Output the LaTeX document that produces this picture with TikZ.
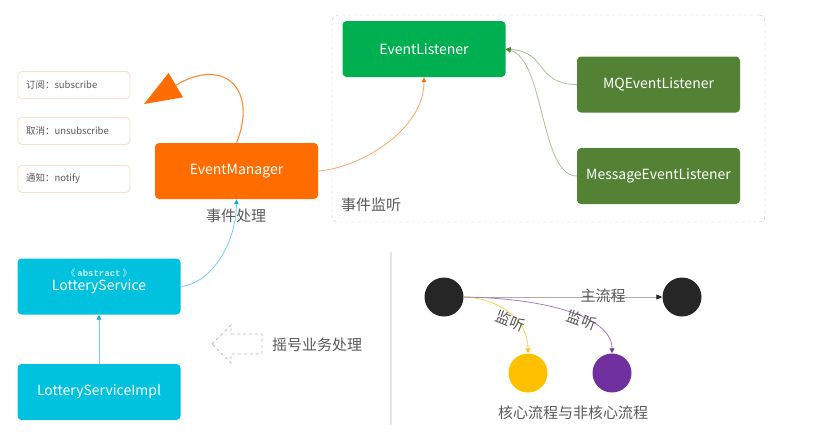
\documentclass[tikz,border=0pt]{standalone}
\usepackage{fontspec}
\setmainfont{Noto Sans CJK SC}
\newfontfamily\absfont{Liberation Mono}
\usetikzlibrary{arrows.meta}
\definecolor{orgA}{HTML}{FF6D00}
\definecolor{orgL}{HTML}{FFA469}
\definecolor{orgB}{HTML}{FDDCC8}
\definecolor{grnA}{HTML}{00B050}
\definecolor{grnD}{HTML}{548235}
\definecolor{grnL}{HTML}{A8C48E}
\definecolor{cyA}{HTML}{00C1DE}
\definecolor{cyL}{HTML}{6FCFF0}
\definecolor{cyT}{HTML}{10A8E0}
\definecolor{txg}{HTML}{595959}
\definecolor{dashg}{HTML}{BDBDBD}
\definecolor{sepg}{HTML}{E6E6E6}
\definecolor{ylw}{HTML}{FFC000}
\definecolor{ylwL}{HTML}{FFD24D}
\definecolor{prp}{HTML}{7030A0}
\definecolor{prpL}{HTML}{A57CC8}
\definecolor{blk}{HTML}{262626}
\definecolor{mainl}{HTML}{ABABAB}
\begin{document}
\begin{tikzpicture}[x=1pt,y=-1pt,
  bigbox/.style={rounded corners=4pt, minimum width=163pt, minimum height=56pt, inner sep=0pt, text=white, font=\fontsize{14}{16}\selectfont},
  smallbox/.style={draw=orgB, line width=0.8pt, rounded corners=4pt, minimum width=112pt, minimum height=27pt, inner xsep=8pt, inner ysep=0pt, text width=96pt, align=left, text=txg, font=\fontsize{9.5}{11}\selectfont},
  lbl/.style={text=txg, font=\fontsize{15}{18}\selectfont, inner sep=0pt},
  dot/.style={circle, minimum size=39pt, inner sep=0pt}
]
\useasboundingbox (0,0) rectangle (826,432);
% group frame
\node (grp) [draw=dashg, dashed, rounded corners=6pt, minimum width=433pt, minimum height=207pt, inner sep=0pt] at (548.5,118.5) {};
% left small boxes
\node (sub) [smallbox] at (74,85) {订阅：subscribe};
\node (unsub) [smallbox] at (74,131) {取消：unsubscribe};
\node (noti) [smallbox] at (74,179) {通知：notify};
% main nodes
\node (em) [bigbox, fill=orgA] at (236.5,171) {EventManager};
\node (el) [bigbox, fill=grnA] at (424,49) {EventListener};
\node (mq) [bigbox, fill=grnD] at (658.5,84.5) {MQEventListener};
\node (msg) [bigbox, fill=grnD] at (658.5,176) {MessageEventListener};
\node (ls) [bigbox, fill=cyA] at (99,286.5) {\raisebox{-3pt}{LotteryService}};
\node (abs) [text=white!80!cyA, font=\fontsize{9}{10}\selectfont, inner sep=0pt] at (99,273.5) {《 {\absfont\bfseries abstract} 》};
\node (lsi) [bigbox, fill=cyA] at (99,392) {LotteryServiceImpl};
% labels
\node (l1) [lbl] at (236,216) {事件处理};
\node (l2) [lbl, anchor=west] at (341,205) {事件监听};
\node (l3) [lbl] at (317,345) {摇号业务处理};
% big orange arrow
\coordinate (bigtip) at (144,104);
\draw[orgA!80!white, line width=1.1pt, -{Triangle[length=37pt,width=28pt,color=orgA]}] (em.north) .. controls (258,90) and (225,56) .. (bigtip);
% connectors
\draw[orgL, line width=0.8pt, -{Triangle[length=5pt,width=4.5pt,color=orgA]}] (em.east) .. controls (360,168) and (424,130) .. (el.south);
\draw[cyL, line width=0.8pt, -{Triangle[length=5pt,width=4.5pt,color=cyT]}] (ls.east) .. controls (210,284) and (236,245) .. (em.south);
\draw[cyL, line width=0.8pt, -{Triangle[length=5pt,width=4.5pt,color=cyT]}] (lsi.north) -- (ls.south);
\draw[grnL, line width=0.8pt, -{Triangle[length=5pt,width=4.5pt,color=grnD]}] (mq.west) .. controls (535,84) and (548,52) .. (el.east);
\draw[grnL, line width=0.8pt, -{Triangle[length=5pt,width=4.5pt,color=grnD]}] (msg.west) .. controls (540,176) and (545,60) .. (el.east);
% hollow dashed arrow
\draw[dashg, dashed, line width=0.8pt] (212,344) -- (231,325) -- (231,334) -- (262,334) -- (262,354) -- (231,354) -- (231,363) -- cycle;
% separator
\draw[sepg, line width=1.5pt] (391,252) -- (391,425);
% flow diagram
\node (c1) [dot, fill=blk] at (444,297) {};
\node (c2) [dot, fill=blk] at (682,297) {};
\node (cy) [dot, fill=ylw] at (528,373) {};
\node (cp) [dot, fill=prp] at (612,373) {};
\draw[mainl, line width=1pt, -{Triangle[length=6pt,width=5pt,color=blk]}] (c1) -- (c2);
\node (l4) [lbl] at (603,296) {主流程};
\draw[ylwL, line width=0.8pt, -{Triangle[length=5pt,width=4.5pt,color=ylw]}] (c1.east) .. controls (497,298) and (528,318) .. (cy.north);
\draw[prpL, line width=0.8pt, -{Triangle[length=5pt,width=4.5pt,color=prp]}] (c1.east) .. controls (540,298) and (612,315) .. (cp.north);
\node (l5) [lbl, rotate=-22] at (511,321) {监听};
\node (l6) [lbl, rotate=-20] at (582,320) {监听};
\node (l7) [lbl] at (573,413) {核心流程与非核心流程};
\end{tikzpicture}
\end{document}
